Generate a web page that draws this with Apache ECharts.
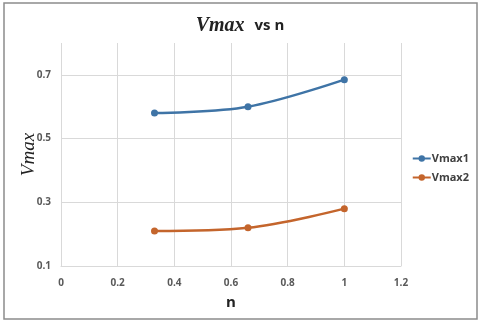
<!DOCTYPE html>
<html>
<head>
<meta charset="utf-8">
<script src="https://cdn.jsdelivr.net/npm/echarts@6/dist/echarts.min.js"></script>
<style>
  html, body { margin: 0; padding: 0; background: #fff; }
  #chart { width: 480px; height: 324px; }
</style>
</head>
<body>
<div id="chart"></div>
<script>
// data
var nValues = [0.33, 0.66, 1.0];
var vmax1 = [0.58, 0.60, 0.685];
var vmax2 = [0.21, 0.22, 0.28];
var yGridLines = [0.3, 0.5, 0.7];
var yLabels = ['0.1', '0.3', '0.5', '0.7'];

var myChart = echarts.init(document.getElementById('chart'));

function pairs(xs, ys) {
  return xs.map(function (x, i) { return [x, ys[i]]; });
}

var labelColor = '#595959';
var gridColor = '#d9d9d9';

var option = {
  backgroundColor: '#fff',
  animation: false,
  title: {
    text: '{it|Vmax}  {b|vs n}',
    left: 'center',
    top: 11,
    textStyle: {
      rich: {
        it: { fontFamily: 'Liberation Serif', fontStyle: 'italic', fontSize: 20, color: '#222' },
        b: { fontFamily: 'Open Sans', fontWeight: 'bold', fontSize: 15, color: '#222' }
      }
    }
  },
  grid: { left: 61, right: 79, top: 43, bottom: 58 },
  legend: {
    orient: 'vertical',
    right: 6,
    top: 148,
    itemGap: 8,
    itemWidth: 18,
    itemHeight: 8,
    textStyle: { fontFamily: 'Open Sans', fontWeight: 'bold', fontSize: 11, color: '#404040', padding: [0, 0, 0, -4] },
    data: ['Vmax1', 'Vmax2']
  },
  xAxis: {
    type: 'value',
    min: 0,
    max: 1.2,
    interval: 0.2,
    name: 'n',
    nameLocation: 'middle',
    nameGap: 29,
    nameMoveOverlap: false,
    nameTextStyle: { fontFamily: 'Open Sans', fontWeight: 'bold', fontSize: 15, color: '#222' },
    axisLine: { lineStyle: { color: gridColor } },
    axisTick: { show: false },
    axisLabel: { fontFamily: 'Open Sans', fontWeight: 'bold', fontSize: 10, color: labelColor, margin: 12 },
    splitLine: { show: true, lineStyle: { color: gridColor } }
  },
  yAxis: {
    type: 'value',
    min: 0.1,
    max: 0.8,
    interval: 0.1,
    name: 'Vmax',
    nameLocation: 'middle',
    nameGap: 23,
    nameMoveOverlap: false,
    nameTextStyle: { fontFamily: 'Liberation Serif', fontStyle: 'italic', fontSize: 19, color: '#222' },
    axisLine: { show: false },
    axisTick: { show: false },
    axisLabel: {
      fontFamily: 'Open Sans', fontWeight: 'bold', fontSize: 10, color: labelColor, margin: 10,
      formatter: function (v) {
        var s = v.toFixed(1);
        return yLabels.indexOf(s) >= 0 ? s : '';
      }
    },
    splitLine: { show: false }
  },
  series: [
    {
      name: 'Vmax1',
      type: 'line',
      smooth: 0.35,
      symbol: 'circle',
      symbolSize: 7,
      color: '#3f74a6',
      lineStyle: { width: 2.5 },
      data: pairs(nValues, vmax1),
      markLine: {
        silent: true,
        symbol: 'none',
        label: { show: false },
        lineStyle: { color: gridColor, type: 'solid', width: 1 },
        data: yGridLines.map(function (v) { return { yAxis: v }; }),
        z: 0
      }
    },
    {
      name: 'Vmax2',
      type: 'line',
      smooth: 0.35,
      symbol: 'circle',
      symbolSize: 7,
      color: '#c4652c',
      lineStyle: { width: 2.5 },
      data: pairs(nValues, vmax2)
    }
  ],
  graphic: [{
    type: 'rect',
    shape: { x: 4, y: 3, width: 473, height: 316 },
    style: { fill: 'none', stroke: '#8c8c8c', lineWidth: 1.5 },
    silent: true
  }]
};

myChart.setOption(option);
</script>
</body>
</html>
